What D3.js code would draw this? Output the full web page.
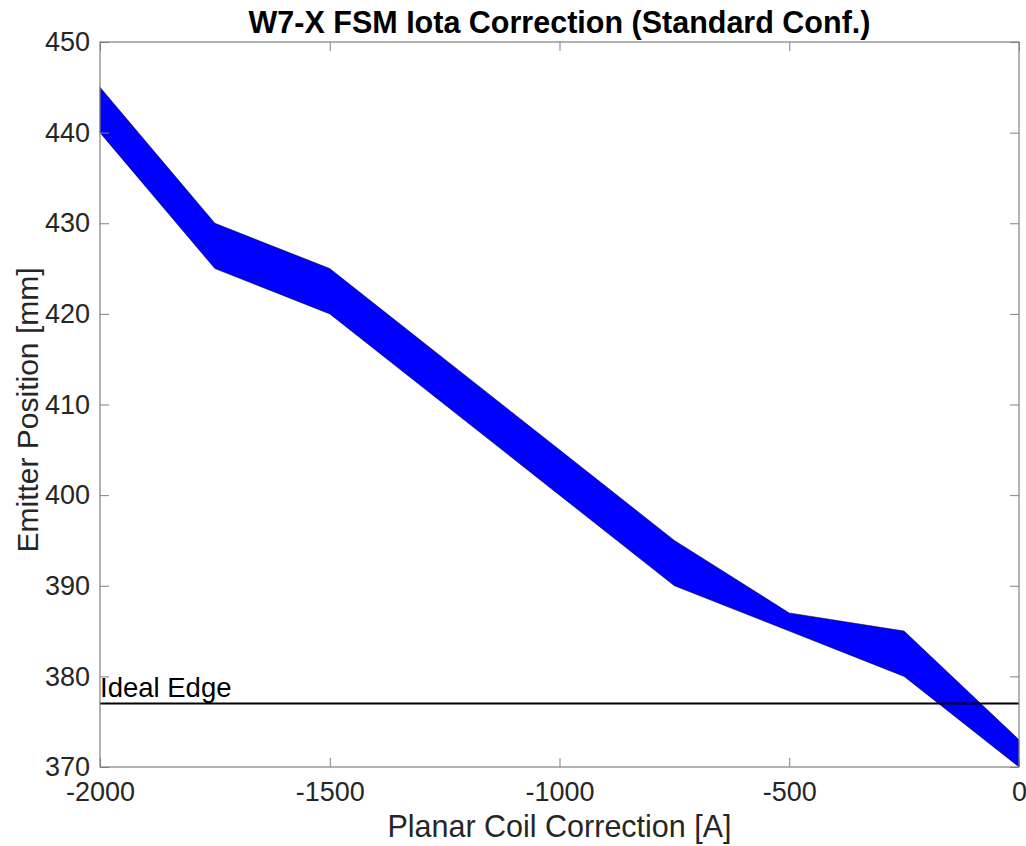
<!DOCTYPE html>
<html>
<head>
<meta charset="utf-8">
<script src="https://cdn.jsdelivr.net/npm/d3@7"></script>
<style>
  body { margin: 0; background: #fff; }
  text { font-family: "Liberation Sans", Arial, Helvetica, sans-serif; }
</style>
</head>
<body>
<div id="chart"></div>
<script>
// band data
var current = [-2000, -1750, -1500, -1250, -1000, -750, -500, -250, 0];
var upperPos = [445, 430, 425, 415, 405, 395, 387, 385, 373];
var lowerPos = [440, 425, 420, 410, 400, 390, 385, 380, 370];
var idealEdge = 377;
var xTicks = [-2000, -1500, -1000, -500, 0];
var yTicks = [370, 380, 390, 400, 410, 420, 430, 440, 450];

var margin = {top: 42, right: 7, bottom: 79, left: 100},
    width = 1026 - margin.left - margin.right,
    height = 846 - margin.top - margin.bottom;

var x = d3.scaleLinear().domain([-2000, 0]).range([0, width]);
var y = d3.scaleLinear().domain([370, 450]).range([height, 0]);

var fmt = function(d){ return String(d); }; // plain hyphen minus like matlab

var svg = d3.select('#chart').append('svg')
            .attr('width', 1026)
            .attr('height', 846);

var g = svg.append('g')
           .attr('transform', 'translate(' + margin.left + ',' + margin.top + ')');

var band = current.map(function(c, i){ return {x: c, hi: upperPos[i], lo: lowerPos[i]}; });

var area = d3.area()
             .x(function(d){ return x(d.x); })
             .y0(function(d){ return y(d.lo); })
             .y1(function(d){ return y(d.hi); });

g.append('path')
 .attr('d', area(band))
 .attr('fill', '#0000ff')
 .attr('stroke', '#000')
 .attr('stroke-width', 0.5);

// ideal edge line
g.append('line')
 .attr('x1', 0).attr('x2', width)
 .attr('y1', y(idealEdge)).attr('y2', y(idealEdge))
 .attr('stroke', '#000').attr('stroke-width', 2);

g.append('text')
 .attr('x', 0).attr('y', y(idealEdge) - 7)
 .attr('font-size', 27.5)
 .attr('fill', '#000')
 .text('Ideal Edge');

// axes, matlab style: ticks inside, box on
var tickLen = 9;
var axisCol = '#808080';

function styleAxis(sel) {
  sel.select('.domain').remove();
  sel.selectAll('.tick line').attr('stroke', axisCol);
  sel.selectAll('.tick text').attr('fill', '#262626')
     .attr('font-size', 27)
     .attr('font-family', '"Liberation Sans", Arial, sans-serif');
}

g.append('g').attr('transform', 'translate(0,' + height + ')')
 .call(d3.axisBottom(x).tickValues(xTicks).tickSize(-tickLen).tickPadding(15).tickFormat(fmt))
 .call(styleAxis);
g.append('g')
 .call(d3.axisTop(x).tickValues(xTicks).tickSize(-tickLen).tickFormat(''))
 .call(styleAxis);
g.append('g')
 .call(d3.axisLeft(y).tickValues(yTicks).tickSize(-tickLen).tickPadding(10).tickFormat(fmt))
 .call(styleAxis);
g.append('g').attr('transform', 'translate(' + width + ',0)')
 .call(d3.axisRight(y).tickValues(yTicks).tickSize(-tickLen).tickFormat(''))
 .call(styleAxis);

g.append('rect')
 .attr('x', 0).attr('y', 0)
 .attr('width', width).attr('height', height)
 .attr('fill', 'none')
 .attr('stroke', axisCol)
 .attr('stroke-width', 1.2);

// labels
svg.append('text')
   .attr('x', margin.left + width / 2)
   .attr('y', 33)
   .attr('text-anchor', 'middle')
   .attr('font-size', 30.5)
   .attr('font-weight', 'bold')
   .attr('fill', '#000')
   .text('W7-X FSM Iota Correction (Standard Conf.)');

svg.append('text')
   .attr('x', margin.left + width / 2)
   .attr('y', 837)
   .attr('text-anchor', 'middle')
   .attr('font-size', 30.5)
   .attr('fill', '#262626')
   .text('Planar Coil Correction [A]');

svg.append('text')
   .attr('transform', 'translate(38,410) rotate(-90)')
   .attr('text-anchor', 'middle')
   .attr('font-size', 30)
   .attr('fill', '#262626')
   .text('Emitter Position [mm]');
</script>
</body>
</html>
